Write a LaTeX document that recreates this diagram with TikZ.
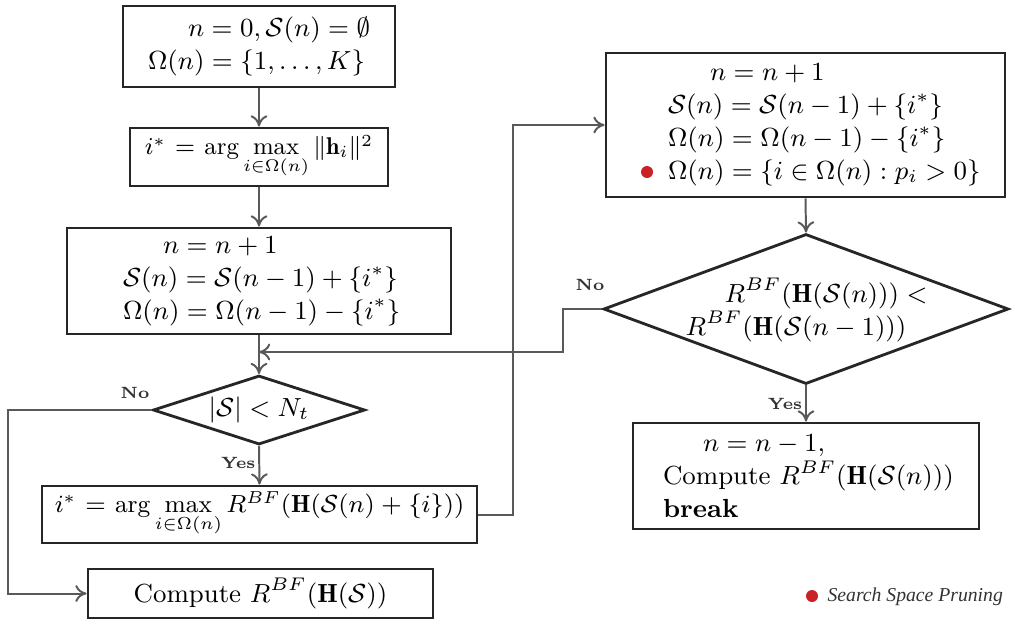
\documentclass[tikz,border=0pt]{standalone}
\usepackage{fix-cm}
\usepackage{amsmath,amssymb}
\usepackage{fontspec}
\newfontfamily\legfont{Liberation Serif}
\usetikzlibrary{shapes.geometric,arrows.meta}
\newlength\pxu \setlength\pxu{0.0125cm}
\definecolor{dotred}{HTML}{CC2027}
\tikzset{
  box/.style={draw=black!85, line width=1pt, inner xsep=0pt, inner ysep=0pt, fill=white},
  dia/.style={diamond, draw=black!85, line width=1pt, inner sep=0pt, aspect=1},
  conn/.style={draw=black!65, line width=0.7pt},
  arr/.style={conn, -{To[length=4pt,width=6pt]}},
  lab/.style={font=\fontsize{5.8}{6.5}\selectfont\bfseries, text=black!80, inner sep=1pt},
  reddot/.style={circle, fill=dotred, inner sep=0pt, minimum size=12\pxu},
}
\begin{document}
\begin{tikzpicture}[x=0.0125cm, y=-0.0125cm, font=\fontsize{9.3}{11.7}\selectfont]
\useasboundingbox (0,0) rectangle (1012,621);

% left column
\node[box, text width=272\pxu, minimum height=81\pxu, align=left] (b1) at (259,46.5)
  {\hspace*{65\pxu}$n=0,\mathcal{S}(n)=\emptyset$\\
   \hspace*{25\pxu}$\Omega(n)=\{1,\ldots,K\}$};
\node[box, text width=258\pxu, minimum height=58\pxu, align=center,
      font=\fontsize{8.6}{10.8}\selectfont] (b2) at (259,157)
  {$i^*=\arg\max\limits_{i\in\Omega(n)}\|\mathbf{h}_i\|^2$};
\node[box, text width=384\pxu, minimum height=106\pxu, align=left] (b3) at (259,281)
  {\hspace*{96\pxu}$n=n+1$\\
   \hspace*{56\pxu}$\mathcal{S}(n)=\mathcal{S}(n-1)+\{i^*\}$\\
   \hspace*{56\pxu}$\Omega(n)=\Omega(n-1)-\{i^*\}$};
\node[dia, minimum width=212\pxu, minimum height=69\pxu] (d1) at (259,410) {};
\node (t1) at (d1.center) {$|\mathcal{S}|<N_t$};
\node[box, text width=435\pxu, minimum height=57\pxu, align=center,
      font=\fontsize{8.8}{11}\selectfont] (b4) at (259.5,514.5)
  {$i^*=\arg\max\limits_{i\in\Omega(n)}R^{BF}(\mathbf{H}(\mathcal{S}(n)+\{i\}))$};
\node[box, text width=345\pxu, minimum height=49\pxu, align=center] (bc) at (260.5,593.5)
  {Compute $R^{BF}(\mathbf{H}(\mathcal{S}))$};

% right column
\node[box, text width=399\pxu, minimum height=144\pxu, align=left] (b5) at (805.5,125)
  {\hspace*{104\pxu}$n=n+1$\\
   \hspace*{62\pxu}$\mathcal{S}(n)=\mathcal{S}(n-1)+\{i^*\}$\\
   \hspace*{62\pxu}$\Omega(n)=\Omega(n-1)-\{i^*\}$\\
   \hspace*{62\pxu}$\Omega(n)=\{i\in\Omega(n):p_i>0\}$};
\node[reddot] (dot1) at (647,172) {};
\node[dia, minimum width=405\pxu, minimum height=150\pxu] (d2) at (806,309) {};
\node[align=left, inner sep=0pt] (t2) at (806.5,310)
  {\hspace*{39\pxu}$R^{BF}(\mathbf{H}(\mathcal{S}(n)))<$\\
   $R^{BF}(\mathbf{H}(\mathcal{S}(n-1)))$};
\node[box, text width=346\pxu, minimum height=106\pxu, align=left] (b6) at (806,476)
  {\hspace*{70\pxu}$n=n-1,$\\
   \hspace*{30\pxu}Compute $R^{BF}(\mathbf{H}(\mathcal{S}(n)))$\\
   \hspace*{30\pxu}\textbf{break}};

% legend
\node[reddot] (dot2) at (812,596) {};
\node[anchor=west, inner sep=0pt, font=\legfont\itshape\fontsize{7}{8}\selectfont, text=black!80] (leg) at (827,597) {Search Space Pruning};

% connector bends
\coordinate (j1) at (8,593.5);
\coordinate (j2) at (563,352);
\coordinate (j3) at (513,125);

% connectors
\draw[arr] (b1.south) -- (b2.north);
\draw[arr] (b2.south) -- (b3.north);
\draw[arr] (b3.south) -- (d1.north);
\draw[arr] (d2.west) -| (j2) -- (b3.south |- j2);
\draw[arr] (d1.south) -- node[lab, left, pos=0.45] (y1) {Yes} (b4.north);
\draw[arr] (d1.west) -| (j1) -- (bc.west);
\node[lab] (n1) at (135,393) {No};
\draw[arr] (b4.east) -| (j3) -- (b5.west);
\draw[arr] (b5.south) -- (d2.north);
\draw[arr] (d2.south) -- node[lab, left, pos=0.5] (y2) {Yes} (b6.north);
\node[lab] (n2) at (590,285) {No};
\end{tikzpicture}
\end{document}
